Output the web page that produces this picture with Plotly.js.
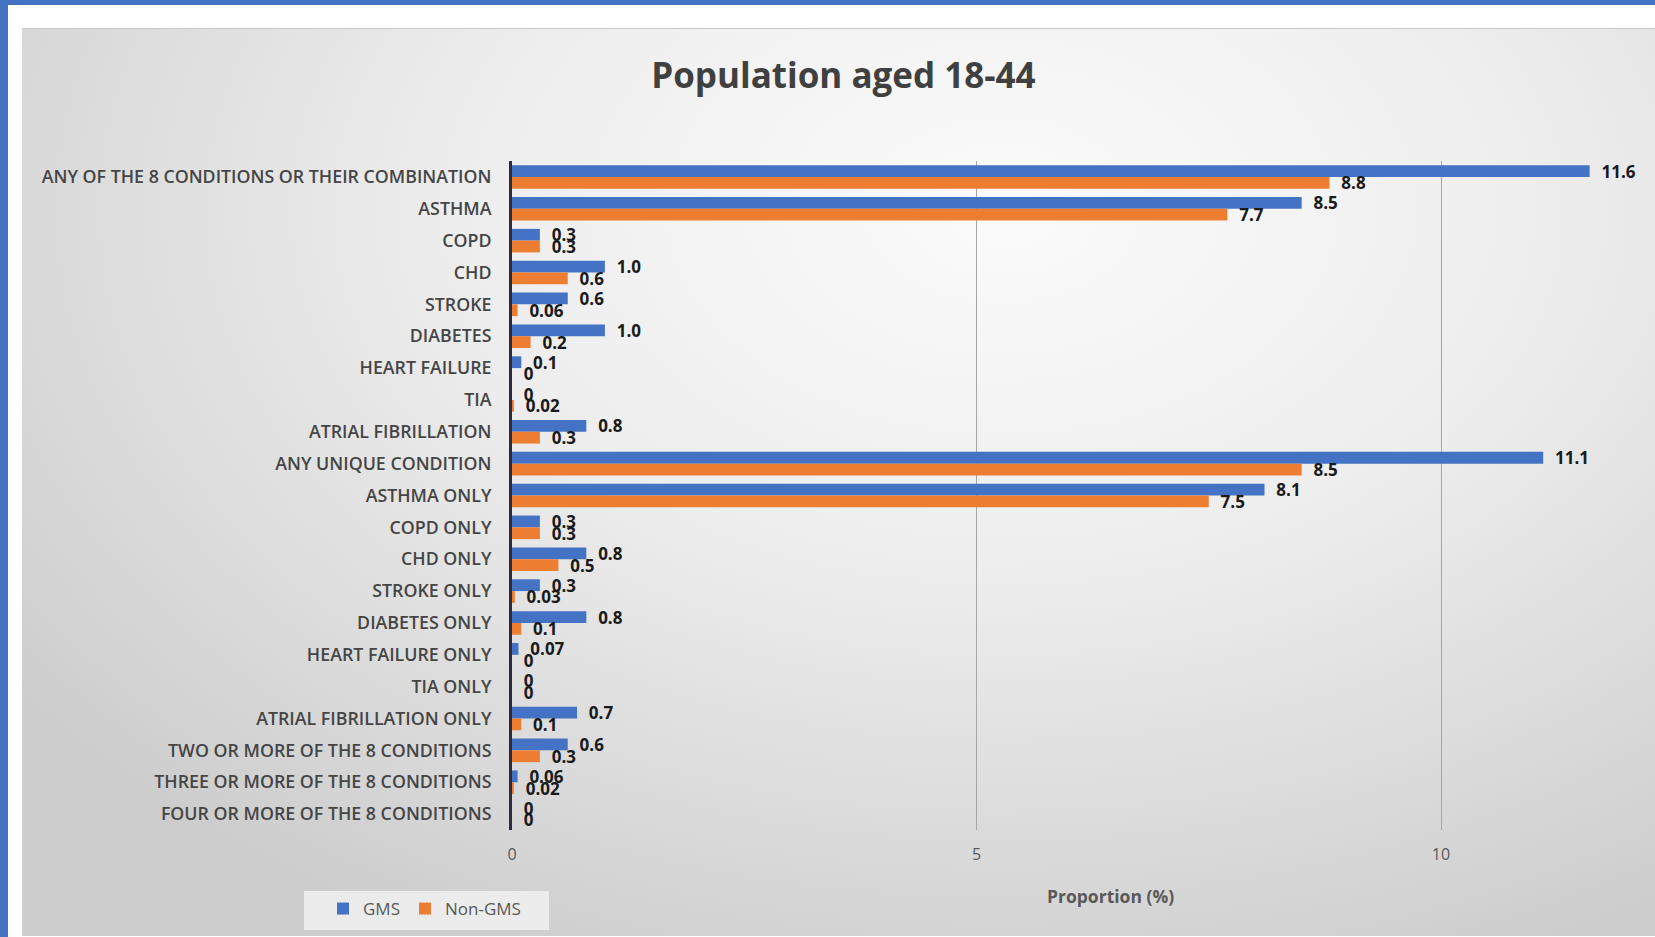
<!DOCTYPE html>
<html>
<head>
<meta charset="utf-8">
<script src="https://cdn.plot.ly/plotly-3.0.1.min.js"></script>
<style>
  html, body { margin: 0; padding: 0; width: 1655px; height: 937px; overflow: hidden; background: #ffffff; }
  #frameTop { position: absolute; left: 0; top: 0; width: 1655px; height: 5px; background: #4472C4; }
  #frameLeft { position: absolute; left: 0; top: 0; width: 8px; height: 937px; background: #4472C4; }
  #chartBox {
    position: absolute; left: 22px; top: 28px; width: 1633px; height: 907px;
    border-top: 1px solid #c8c8c8;
    background: radial-gradient(ellipse 75% 90% at 60% 20%, #fbfbfb 0%, #ededed 45%, #d6d6d6 85%, #cdcdcd 100%);
  }
  #chart { position: absolute; left: 0; top: 0; width: 1633px; height: 907px; }
</style>
</head>
<body>
<div id="frameTop"></div>
<div id="frameLeft"></div>
<div id="chartBox"><div id="chart"></div></div>
<script>
const categories = [
  "ANY OF THE 8 CONDITIONS OR THEIR COMBINATION",
  "ASTHMA",
  "COPD",
  "CHD",
  "STROKE",
  "DIABETES",
  "HEART FAILURE",
  "TIA",
  "ATRIAL FIBRILLATION",
  "ANY UNIQUE CONDITION",
  "ASTHMA ONLY",
  "COPD ONLY",
  "CHD ONLY",
  "STROKE ONLY",
  "DIABETES ONLY",
  "HEART FAILURE ONLY",
  "TIA ONLY",
  "ATRIAL FIBRILLATION ONLY",
  "TWO OR MORE OF THE 8 CONDITIONS",
  "THREE OR MORE OF THE 8 CONDITIONS",
  "FOUR OR MORE OF THE 8 CONDITIONS"
];
const gmsValues    = [11.6, 8.5, 0.3, 1.0, 0.6, 1.0, 0.1, 0, 0.8, 11.1, 8.1, 0.3, 0.8, 0.3, 0.8, 0.07, 0, 0.7, 0.6, 0.06, 0];
const gmsLabels    = ["11.6","8.5","0.3","1.0","0.6","1.0","0.1","0","0.8","11.1","8.1","0.3","0.8","0.3","0.8","0.07","0","0.7","0.6","0.06","0"];
const nonGmsValues = [8.8, 7.7, 0.3, 0.6, 0.06, 0.2, 0, 0.02, 0.3, 8.5, 7.5, 0.3, 0.5, 0.03, 0.1, 0, 0, 0.1, 0.3, 0.02, 0];
const nonGmsLabels = ["8.8","7.7","0.3","0.6","0.06","0.2","0","0.02","0.3","8.5","7.5","0.3","0.5","0.03","0.1","0","0","0.1","0.3","0.02","0"];
const xTicks = [0, 5, 10];

const labelFont = { family: "Open Sans, sans-serif", size: 17, color: "#1a1a1a", weight: "bold" };

const traces = [
  {
    type: "bar", orientation: "h", name: "GMS",
    y: categories, x: gmsValues, text: gmsLabels,
    texttemplate: "\u00A0\u00A0%{text}", textposition: "outside",
    constraintext: "none", cliponaxis: false,
    textfont: labelFont,
    marker: { color: "#4472C4" }, hoverinfo: "x+y+name"
  },
  {
    type: "bar", orientation: "h", name: "Non-GMS",
    y: categories, x: nonGmsValues, text: nonGmsLabels,
    texttemplate: "\u00A0\u00A0%{text}", textposition: "outside",
    constraintext: "none", cliponaxis: false,
    textfont: labelFont,
    marker: { color: "#ED7D31" }, hoverinfo: "x+y+name"
  }
];

const W = 1633, H = 907;
const mL = 490, mR = 8, mT = 132, mB = 106;
const plotW = W - mL - mR, plotH = H - mT - mB;
const pxPerUnit = 92.9;
const xMax = plotW / pxPerUnit;
const px2x = (px) => (px - mL) / plotW;
const px2y = (py) => (H - mB - py) / plotH;

const layout = {
  width: W, height: H,
  paper_bgcolor: "rgba(0,0,0,0)", plot_bgcolor: "rgba(0,0,0,0)",
  margin: { l: mL, r: mR, t: mT, b: mB, pad: 0 },
  font: { family: "Open Sans, sans-serif", color: "#404040" },
  title: {
    text: "Population aged 18-44",
    font: { family: "Open Sans, sans-serif", size: 35, color: "#404040", weight: "bold" },
    x: 0.503, xanchor: "center", y: 0.949, yanchor: "middle"
  },
  barmode: "group", bargap: 0.26, bargroupgap: 0,
  xaxis: {
    range: [0, xMax], tickvals: xTicks, ticktext: xTicks.map(String),
    showgrid: true, gridcolor: "#a6a6a6", gridwidth: 1,
    zeroline: false, showline: false, ticks: "",
    tickfont: { family: "Open Sans, sans-serif", size: 16, color: "#595959" },
    ticklabelstandoff: 13, fixedrange: true
  },
  yaxis: {
    type: "category", autorange: "reversed",
    showline: true, linecolor: "#2b2b3a", linewidth: 3,
    showgrid: false, zeroline: false, ticks: "",
    tickfont: { family: "Open Sans, sans-serif", size: 17.8, color: "#454545", weight: 600 },
    ticklabelstandoff: 14, fixedrange: true
  },
  showlegend: true,
  legend: {
    orientation: "h",
    x: px2x(301), xanchor: "left",
    y: px2y(880), yanchor: "middle",
    bgcolor: "rgba(0,0,0,0)",
    font: { family: "Open Sans, sans-serif", size: 17, color: "#595959" },
    itemwidth: 30, traceorder: "normal"
  },
  shapes: [
    {
      type: "rect", xref: "paper", yref: "paper", layer: "below",
      x0: px2x(282), x1: px2x(527), y0: px2y(862), y1: px2y(901),
      fillcolor: "rgba(238,238,238,0.9)", line: { width: 0 }
    }
  ],
  annotations: [
    {
      text: "Proportion (%)", showarrow: false,
      xref: "paper", yref: "paper",
      x: px2x(1088), xanchor: "center",
      y: px2y(867), yanchor: "middle",
      font: { family: "Open Sans, sans-serif", size: 17.5, color: "#595959", weight: "bold" }
    }
  ]
};

Plotly.newPlot("chart", traces, layout, { displayModeBar: false, staticPlot: true });
</script>
</body>
</html>
